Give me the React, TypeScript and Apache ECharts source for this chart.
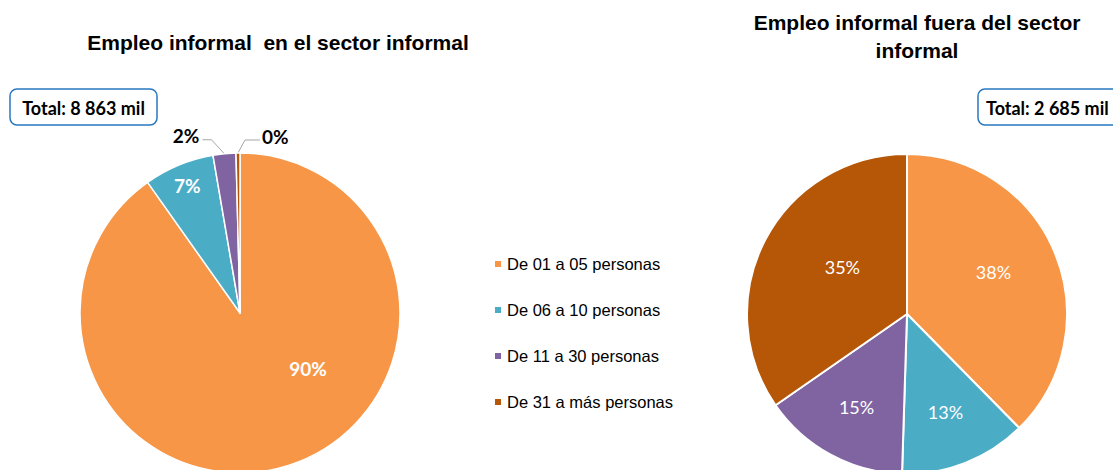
import React, { useEffect, useRef } from "react";
import * as echarts from "echarts";

const categories = [
  "De 01 a 05 personas",
  "De 06 a 10 personas",
  "De 11 a 30 personas",
  "De 31 a más personas",
];
const sectorInformalPct = [90.2, 7.1, 2.3, 0.4];
const fueraSectorPct = [38, 13, 15, 35];
const colors = ["#F79646", "#4BACC6", "#8064A2", "#B65708"];
const leftTitle = "Empleo informal  en el sector informal";
const rightTitle = "Empleo informal fuera del sector\ninformal";
const leftTotal = "Total: 8 863 mil";
const rightTotal = "Total: 2 685 mil";

const R = 160;
const LEFT_C = [240, 313];
const RIGHT_C = [907, 314];

function midAngle(values: number[], i: number) {
  const sum = values.reduce((a, b) => a + b, 0);
  let cum = 0;
  for (let k = 0; k < i; k++) cum += values[k];
  return ((cum + values[i] / 2) / sum) * Math.PI * 2; // clockwise from top
}

function polar(c: number[], a: number, r: number) {
  return [c[0] + r * Math.sin(a), c[1] - r * Math.cos(a)];
}

function pointAt(c: number[], values: number[], i: number, r: number) {
  return polar(c, midAngle(values, i), r);
}

// label placement (angle offset in degrees from slice middle, radius fraction)
const leftLabelPlace = [
  [-33, 0.55],
  [0, 0.86],
];
const rightLabelPlace = [
  [-3.5, 0.6],
  [0, 0.66],
  [0, 0.66],
  [8.5, 0.5],
];

export default function App() {
  const ref = useRef<HTMLDivElement>(null);
  useEffect(() => {
    document.body.style.margin = "0";
    if (!ref.current) return;
    const chart = echarts.init(ref.current, undefined, { renderer: "svg" });
    const pctFmt = (p: any) => Math.round(p.value) + "%";
    const outsideLabel = {
      show: true,
      position: "outside",
      color: "#000",
      fontFamily: "Lato",
      fontWeight: "bold",
      fontSize: 19,
    };
    const placeInside = (c: number[], values: number[], place: number[][], i: number) => {
      const a = midAngle(values, i) + (place[i][0] * Math.PI) / 180;
      const p = polar(c, a, R * place[i][1]);
      return { x: p[0], y: p[1], align: "center", verticalAlign: "middle" };
    };
    const option: any = {
      animation: false,
      backgroundColor: "#fff",
      color: colors,
      legend: {
        data: categories,
        orient: "vertical",
        left: 488,
        top: 250,
        icon: "rect",
        itemWidth: 8,
        itemHeight: 8,
        itemGap: 28,
        selectedMode: false,
        textStyle: {
          fontFamily: "Liberation Sans",
          fontSize: 16.5,
          lineHeight: 18,
          color: "#000",
        },
      },
      graphic: [
        {
          type: "text",
          x: 278,
          y: 42,
          style: {
            text: leftTitle,
            font: "bold 21px 'Liberation Sans'",
            fill: "#000",
            align: "center",
            verticalAlign: "middle",
          },
        },
        {
          type: "text",
          x: 917,
          y: 36,
          style: {
            text: rightTitle,
            font: "bold 21px 'Liberation Sans'",
            lineHeight: 28,
            fill: "#000",
            align: "center",
            verticalAlign: "middle",
          },
        },
        {
          type: "rect",
          shape: { x: 10, y: 89, width: 147, height: 36, r: 7 },
          style: { fill: "#fff", stroke: "#2878BE", lineWidth: 1.5 },
        },
        {
          type: "text",
          x: 83.5,
          y: 107.5,
          style: {
            text: leftTotal,
            font: "bold 18px Lato",
            fill: "#000",
            align: "center",
            verticalAlign: "middle",
          },
        },
        {
          type: "rect",
          shape: { x: 978, y: 89, width: 160, height: 36, r: 7 },
          style: { fill: "#fff", stroke: "#2878BE", lineWidth: 1.5 },
        },
        {
          type: "text",
          x: 986,
          y: 107.5,
          style: {
            text: rightTotal,
            font: "bold 18px Lato",
            fill: "#000",
            align: "left",
            verticalAlign: "middle",
          },
        },
      ],
      series: [
        {
          type: "pie",
          center: LEFT_C,
          radius: R,
          startAngle: 90,
          clockwise: true,
          avoidLabelOverlap: false,
          itemStyle: { borderColor: "#fff", borderWidth: 1.5 },
          label: {
            show: true,
            position: "inside",
            formatter: pctFmt,
            color: "#fff",
            fontFamily: "Lato",
            fontWeight: "bold",
            fontSize: 19,
          },
          labelLine: { show: false },
          emphasis: { disabled: true },
          labelLayout: (params: any) => {
            const i = params.dataIndex;
            if (i === 2) {
              const p0 = pointAt(LEFT_C, sectorInformalPct, i, R);
              const p1 = [p0[0] - 13, p0[1] - 14];
              const p2 = [p1[0] - 9, p1[1]];
              return {
                x: p2[0] - 3,
                y: p2[1] - 4,
                align: "right",
                verticalAlign: "middle",
                labelLinePoints: [p0, p1, p2],
              };
            }
            if (i === 3) {
              const p0 = pointAt(LEFT_C, sectorInformalPct, i, R);
              const p1 = [p0[0] + 7, p0[1] - 13];
              const p2 = [p1[0] + 15, p1[1]];
              return {
                x: p2[0] + 2,
                y: p2[1] - 4,
                align: "left",
                verticalAlign: "middle",
                labelLinePoints: [p0, p1, p2],
              };
            }
            return placeInside(LEFT_C, sectorInformalPct, leftLabelPlace, i);
          },
          data: categories.map((name, i) =>
            i >= 2
              ? {
                  name,
                  value: sectorInformalPct[i],
                  label: outsideLabel,
                  labelLine: {
                    show: true,
                    length: 10,
                    length2: 8,
                    lineStyle: { color: "#A6A6A6", width: 1 },
                  },
                }
              : { name, value: sectorInformalPct[i] }
          ),
        },
        {
          type: "pie",
          center: RIGHT_C,
          radius: R,
          startAngle: 90,
          clockwise: true,
          itemStyle: { borderColor: "#fff", borderWidth: 2 },
          label: {
            show: true,
            position: "inside",
            formatter: pctFmt,
            color: "#fff",
            fontFamily: "Lato",
            fontSize: 18,
          },
          labelLine: { show: false },
          emphasis: { disabled: true },
          labelLayout: (params: any) =>
            placeInside(RIGHT_C, fueraSectorPct, rightLabelPlace, params.dataIndex),
          data: categories.map((name, i) => ({ name, value: fueraSectorPct[i] })),
        },
      ],
    };
    chart.setOption(option);
    return () => chart.dispose();
  }, []);
  return (
    <div
      ref={ref}
      style={{ position: "fixed", left: 0, top: 0, width: 1113, height: 470 }}
    />
  );
}
